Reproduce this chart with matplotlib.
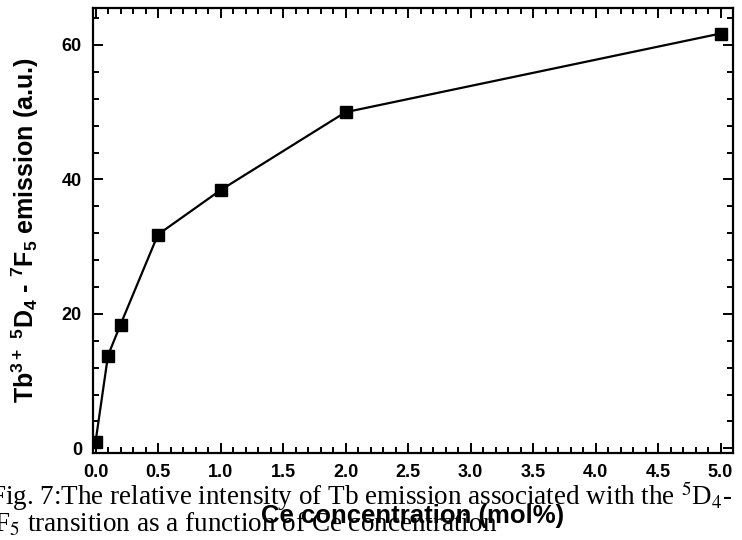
import matplotlib
matplotlib.use("Agg")
import matplotlib.pyplot as plt
from matplotlib.ticker import MultipleLocator

ce_conc = [0.0, 0.1, 0.2, 0.5, 1.0, 2.0, 5.0]
emission = [0.9, 13.8, 18.4, 31.8, 38.4, 50.0, 61.7]
x_ticks = [0.0, 0.5, 1.0, 1.5, 2.0, 2.5, 3.0, 3.5, 4.0, 4.5, 5.0]
y_ticks = [0, 20, 40, 60]

plt.rcParams['font.family'] = ['Liberation Sans', 'DejaVu Sans']
plt.rcParams['mathtext.fontset'] = 'custom'
plt.rcParams['mathtext.rm'] = 'Liberation Sans:bold'
plt.rcParams['mathtext.bf'] = 'Liberation Sans:bold'
plt.rcParams['mathtext.it'] = 'Liberation Sans:bold'


def main():
    fig = plt.figure(figsize=(7.42, 5.40), dpi=100)
    ax = fig.add_axes([93 / 742, 1 - 453 / 540, 640 / 742, 445 / 540])

    ax.plot(ce_conc, emission, color='black', linewidth=1.6, marker='s',
            markersize=8.5, markerfacecolor='black', markeredgecolor='black')

    ax.set_xlim(-0.02, 5.1)
    ax.set_ylim(-0.7, 65.5)
    ax.set_xticks(x_ticks)
    ax.set_yticks(y_ticks)
    ax.xaxis.set_minor_locator(MultipleLocator(0.1))
    ax.yaxis.set_minor_locator(MultipleLocator(4))
    ax.tick_params(which='both', direction='in', top=True, right=True, width=1.4)
    ax.tick_params(which='major', length=7, labelsize=13, pad=8)
    ax.tick_params(which='minor', length=4)
    for lab in ax.get_xticklabels() + ax.get_yticklabels():
        lab.set_fontweight('bold')
    for sp in ax.spines.values():
        sp.set_linewidth(1.6)

    ax.set_xlabel('Ce concentration (mol%)', fontsize=18.5, fontweight='bold')
    ax.xaxis.label.set_va('baseline')
    ax.xaxis.set_label_coords(0.5, -0.157)
    ax.set_ylabel(r'Tb$^{3+}$ $^{5}$D$_{4}$ - $^{7}$F$_{5}$ emission (a.u.)',
                  fontsize=18, fontweight='bold')
    ax.yaxis.set_label_coords(-0.082, 0.5)

    # caption printed under the plot
    fig.text(-0.014, 1 - 505 / 540,
             r'Fig. 7:The relative intensity of Tb emission associated with the $^{5}$D$_{4}$-',
             fontsize=19.5, family='Liberation Serif', math_fontfamily='stix')
    fig.text(-0.023, 1 - 532 / 540,
             r'$^{7}$F$_{5}$ transition as a function of Ce concentration',
             fontsize=19.5, family='Liberation Serif', math_fontfamily='stix')

    fig.savefig('out.png', dpi=100)


if __name__ == "__main__":
    main()
